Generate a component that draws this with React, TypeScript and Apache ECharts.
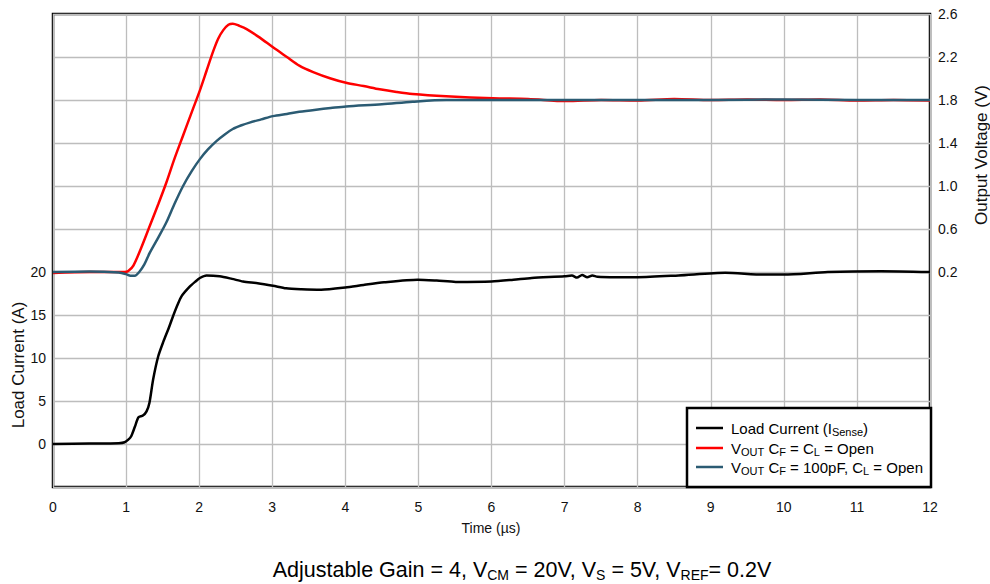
import React, { useEffect, useRef } from "react";
import * as echarts from "echarts";

// ---------- data ----------
const xTicks = [0, 12, 1]; // min, max, step (µs)

const currentTime = [0, 0.5, 0.9, 0.98, 1.03, 1.07, 1.12, 1.17, 1.23, 1.28, 1.32, 1.37, 1.44, 1.51, 1.58, 1.64, 1.7, 1.76, 1.87, 1.95, 2.01, 2.1, 2.28, 2.45, 2.6, 2.8, 3.01, 3.19, 3.4, 3.67, 4.0, 4.25, 4.53, 4.99, 5.25, 5.51, 6.0, 6.3, 6.55, 7.0, 7.1, 7.17, 7.24, 7.31, 7.38, 7.45, 7.7, 8.0, 8.56, 9.2, 9.72, 10.0, 10.6, 11.33, 12.0];
const currentValue = [0, 0.05, 0.1, 0.2, 0.5, 0.9, 2.0, 3.1, 3.3, 3.8, 4.8, 7.5, 10.2, 11.9, 13.4, 14.8, 16.1, 17.2, 18.3, 18.9, 19.3, 19.6, 19.5, 19.2, 18.9, 18.7, 18.4, 18.1, 18.0, 17.95, 18.2, 18.5, 18.8, 19.1, 19.0, 18.85, 18.9, 19.1, 19.3, 19.5, 19.6, 19.35, 19.65, 19.4, 19.6, 19.45, 19.4, 19.4, 19.6, 19.9, 19.7, 19.7, 20.0, 20.1, 20.0];

const vOpenTime = [0, 0.5, 0.98, 1.03, 1.1, 1.21, 1.325, 1.44, 1.55, 1.66, 1.78, 1.9, 2.01, 2.1, 2.19, 2.26, 2.33, 2.4, 2.46, 2.55, 2.65, 2.83, 3.01, 3.2, 3.37, 3.56, 3.8, 4.01, 4.25, 4.47, 4.7, 4.92, 5.38, 6.02, 6.5, 7.02, 7.5, 8.0, 8.5, 9.0, 9.5, 10.0, 10.5, 11.0, 11.5, 12.0];
const vOpenValue = [0.19, 0.2, 0.2, 0.21, 0.26, 0.43, 0.63, 0.83, 1.03, 1.25, 1.47, 1.69, 1.89, 2.07, 2.25, 2.37, 2.45, 2.5, 2.51, 2.49, 2.46, 2.38, 2.29, 2.2, 2.12, 2.06, 2.0, 1.96, 1.93, 1.9, 1.875, 1.856, 1.835, 1.816, 1.81, 1.79, 1.8, 1.795, 1.81, 1.8, 1.805, 1.8, 1.805, 1.795, 1.8, 1.795];

const v100Time = [0, 0.5, 0.9, 1.0, 1.06, 1.12, 1.18, 1.25, 1.325, 1.44, 1.55, 1.66, 1.78, 1.9, 2.01, 2.12, 2.24, 2.35, 2.46, 2.58, 2.69, 2.85, 3.01, 3.2, 3.37, 3.6, 3.8, 4.01, 4.5, 4.92, 5.38, 6.0, 7.0, 8.0, 9.0, 10.0, 11.0, 12.0];
const v100Value = [0.2, 0.205, 0.195, 0.18, 0.165, 0.165, 0.2, 0.27, 0.38, 0.52, 0.66, 0.83, 1.0, 1.14, 1.25, 1.34, 1.42, 1.48, 1.53, 1.565, 1.59, 1.62, 1.65, 1.67, 1.69, 1.71, 1.725, 1.74, 1.76, 1.784, 1.8, 1.8, 1.8, 1.8, 1.8, 1.805, 1.8, 1.8];

const currentAxis = [-5, 50, 5]; // min, max, step (A)
const currentLabelRange = [0, 20];
const voltageAxis = [-1.8, 2.6, 0.2]; // min, max, step (V)
const voltageLabelStart = 0.2;
const voltageLabelStep = 0.4;

const FONT = '"Liberation Sans", Arial, Helvetica, sans-serif';
const TXT = "#111";

const zip = (xs: number[], ys: number[]) => xs.map((x, i) => [x, ys[i]]);

function richText(parts: [string, boolean][]) {
  return parts.map(([t, sub]) => `{${sub ? "s" : "m"}|${t}}`).join("");
}

export default function App() {
  const ref = useRef<HTMLDivElement>(null);
  useEffect(() => {
    if (!ref.current) return;
    const chart = echarts.init(ref.current, undefined, { renderer: "svg" });
    const legendRich = {
      m: { fontSize: 15, fontFamily: FONT, color: TXT, lineHeight: 18, verticalAlign: "middle" },
      s: { fontSize: 11, fontFamily: FONT, color: TXT, lineHeight: 10, verticalAlign: "bottom" },
    };
    const footRich = {
      m: { fontSize: 21.5, fontFamily: FONT, color: TXT, lineHeight: 24, verticalAlign: "middle" },
      s: { fontSize: 14, fontFamily: FONT, color: TXT, lineHeight: 13, verticalAlign: "bottom" },
    };
    const legendRows: { color: string; text: string }[] = [
      { color: "#000000", text: richText([["Load Current (I", false], ["Sense", true], [")", false]]) },
      { color: "#ff0000", text: richText([["V", false], ["OUT", true], [" C", false], ["F", true], [" = C", false], ["L", true], [" = Open", false]]) },
      { color: "#2b5b73", text: richText([["V", false], ["OUT", true], [" C", false], ["F", true], [" = 100pF, C", false], ["L", true], [" = Open", false]]) },
    ];
    const rowY = [428, 448, 467];
    const legendEls: any[] = [
      { type: "rect", shape: { x: 687, y: 408, width: 244, height: 79 }, style: { fill: "#fff", stroke: "#000", lineWidth: 2.5 }, z: 100 },
    ];
    legendRows.forEach((r, i) => {
      legendEls.push({ type: "line", shape: { x1: 696, y1: rowY[i], x2: 723, y2: rowY[i] }, style: { stroke: r.color, lineWidth: 2.5 }, z: 101 });
      legendEls.push({ type: "text", x: 731, y: rowY[i], style: { text: r.text, rich: legendRich, verticalAlign: "middle", align: "left" }, z: 101 });
    });

    chart.setOption({
      animation: false,
      backgroundColor: "#fff",
      grid: { left: 53, right: 60, top: 14, bottom: 97, show: true, borderColor: "#000", borderWidth: 2.5, backgroundColor: "transparent" },
      xAxis: {
        type: "value", min: xTicks[0], max: xTicks[1], interval: xTicks[2],
        axisLine: { show: false }, axisTick: { show: false },
        axisLabel: { color: TXT, fontSize: 14, fontFamily: FONT, margin: 13 },
        splitLine: { show: true, lineStyle: { color: "#bdbdbd", width: 1.3 } },
      },
      yAxis: [
        {
          type: "value", min: currentAxis[0], max: currentAxis[1], interval: currentAxis[2],
          axisLine: { show: false }, axisTick: { show: false },
          axisLabel: {
            color: TXT, fontSize: 14, fontFamily: FONT, margin: 7,
            formatter: (v: number) => (v >= currentLabelRange[0] && v <= currentLabelRange[1] ? String(v) : ""),
          },
          splitLine: { show: true, lineStyle: { color: "#bdbdbd", width: 1.3 } },
        },
        {
          type: "value", position: "right", min: voltageAxis[0], max: voltageAxis[1], interval: voltageAxis[2],
          axisLine: { show: false }, axisTick: { show: false }, splitLine: { show: false },
          axisLabel: {
            color: TXT, fontSize: 14, fontFamily: FONT, margin: 8,
            formatter: (v: number) => {
              const k = (v - voltageLabelStart) / voltageLabelStep;
              return v > voltageLabelStart - 0.01 && Math.abs(k - Math.round(k)) < 1e-6 ? v.toFixed(1) : "";
            },
          },
        },
      ],
      series: [
        {
          type: "line", name: "VOUT CF = CL = Open", yAxisIndex: 1, data: zip(vOpenTime, vOpenValue),
          symbol: "none", smooth: 0.3, lineStyle: { color: "#ff0000", width: 2.5 },
        },
        {
          type: "line", name: "VOUT CF = 100pF, CL = Open", yAxisIndex: 1, data: zip(v100Time, v100Value),
          symbol: "none", smooth: 0.3, lineStyle: { color: "#2b5b73", width: 2.5 },
        },
        {
          type: "line", name: "Load Current (ISense)", yAxisIndex: 0, data: zip(currentTime, currentValue),
          symbol: "none", smooth: 0.25, lineStyle: { color: "#000000", width: 2.5 },
        },
      ],
      graphic: [
        { type: "text", x: 18, y: 365, rotation: Math.PI / 2, style: { text: "Load Current (A)", font: `17px ${FONT}`, fill: TXT, align: "center", verticalAlign: "middle" } },
        { type: "text", x: 981, y: 155, rotation: Math.PI / 2, style: { text: "Output Voltage (V)", font: `17px ${FONT}`, fill: TXT, align: "center", verticalAlign: "middle" } },
        { type: "text", x: 491, y: 528, style: { text: "Time (µs)", font: `14px ${FONT}`, fill: TXT, align: "center", verticalAlign: "middle" } },
        {
          type: "text", x: 522, y: 570,
          style: {
            text: richText([["Adjustable Gain = 4, V", false], ["CM", true], [" = 20V, V", false], ["S", true], [" = 5V, V", false], ["REF", true], ["= 0.2V", false]]),
            rich: footRich, align: "center", verticalAlign: "middle",
          },
        },
        ...legendEls,
      ],
    });
    return () => chart.dispose();
  }, []);
  return <div ref={ref} style={{ position: "absolute", left: 0, top: 0, width: 990, height: 584 }} />;
}
